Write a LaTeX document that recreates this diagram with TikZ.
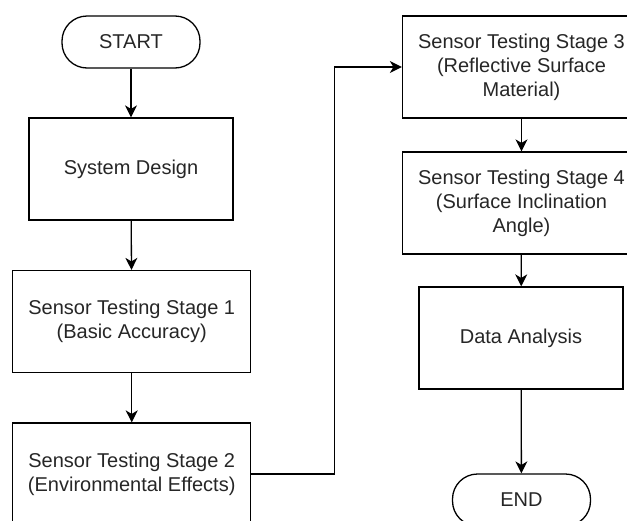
\documentclass[tikz,border=0pt]{standalone}
\usepackage{fontspec}
\setmainfont{Liberation Sans}
\usetikzlibrary{arrows.meta}

\begin{document}
\begin{tikzpicture}[
        x=0.5pt, y=-0.5pt,
        font=\fontsize{10}{12}\selectfont,
        block/.style={rectangle, draw, line width=0.65pt, text=black!85, align=center, minimum height=51pt},
        process/.style={block, minimum width=102pt},
        stage/.style={block, minimum width=119pt},
        terminal/.style={block, rounded corners=12.5pt, minimum width=69pt, minimum height=26pt},
        arrow/.style={-{Stealth[length=6pt, width=6pt, inset=1.8pt]}, line width=0.65pt}
    ]
        \clip (0,0) rectangle (627,520);

        % Left column
        \node[terminal] (S) at (131, 42) {START};
        \node[process] (SD) at (131, 169) {System Design};
        \node[stage] (T1) at (131.7, 321.5) {Sensor Testing Stage 1\\(Basic Accuracy)};
        \node[stage] (T2) at (131.7, 474) {Sensor Testing Stage 2\\(Environmental Effects)};

        % Right column
        \node[stage] (T3) at (521.5, 67) {Sensor Testing Stage 3\\(Reflective Surface\\Material)};
        \node[stage] (T4) at (521.5, 203) {Sensor Testing Stage 4\\(Surface Inclination\\Angle)};
        \node[process] (DA) at (521, 338) {Data Analysis};
        \node[terminal] (E) at (521.5, 500) {END};

        % Connections
        \draw[arrow] (S) -- (SD);
        \draw[arrow] (SD) -- (T1);
        \draw[arrow] (T1) -- (T2);
        \draw[arrow] (T2.east) -- ++(83,0) |- (T3.west);
        \draw[arrow] (T3) -- (T4);
        \draw[arrow] (T4) -- (DA);
        \draw[arrow] (DA) -- (E);

    \end{tikzpicture}
\end{document}
